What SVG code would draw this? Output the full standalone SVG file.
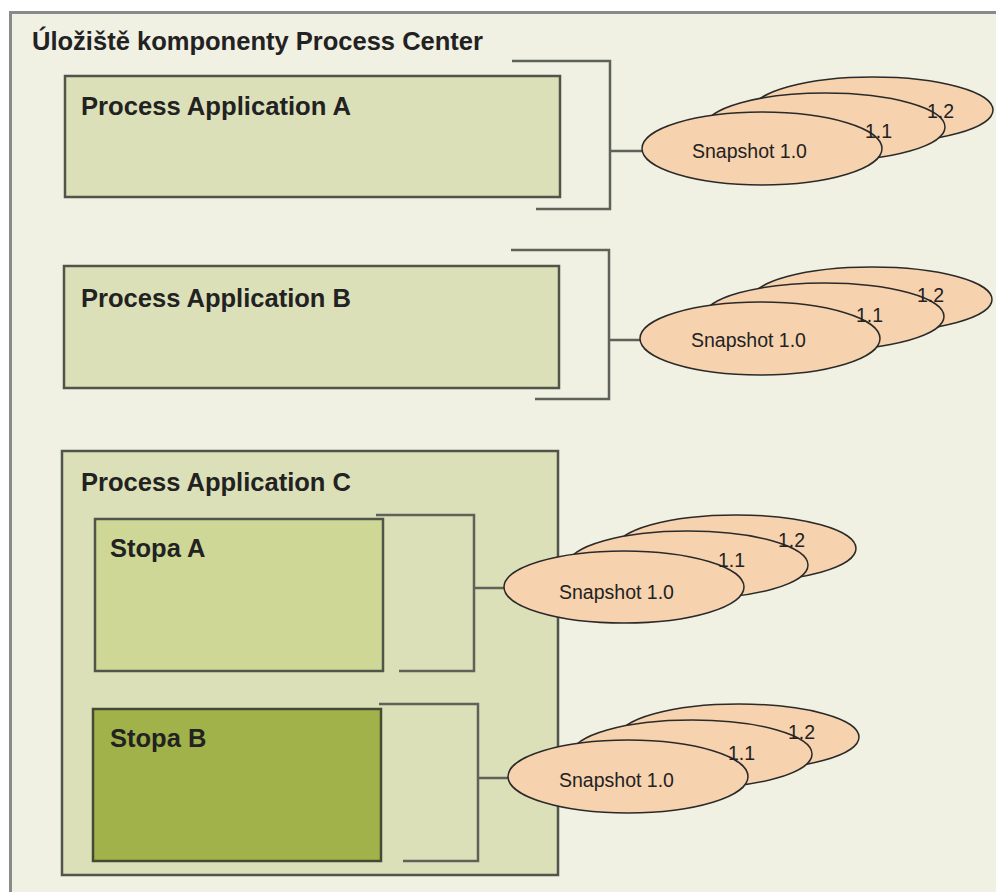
<svg xmlns="http://www.w3.org/2000/svg" width="996" height="892" viewBox="0 0 996 892">
<style>
.bg{fill:#ffffff}
.frame{fill:#f0f0e3;stroke:#8a8a8a;stroke-width:3}
.pa{fill:#dce0b8;stroke:#50554a;stroke-width:2.5}
.sa{fill:#ced796;stroke:#50554a;stroke-width:2.5}
.sb{fill:#a1b24a;stroke:#454a35;stroke-width:2.5}
.br{fill:none;stroke:#5e6258;stroke-width:2.5}
.snap{fill:#f6d2ae;stroke:#2a2a2a;stroke-width:1.5}
.t1{font-family:"Liberation Sans",Arial,sans-serif;font-weight:bold;font-size:25.5px;fill:#222}
.t2{font-family:"Liberation Sans",Arial,sans-serif;font-size:19.5px;fill:#222}
</style>
<rect class="bg" x="0" y="0" width="996" height="892"/>
<rect class="frame" x="10.5" y="12.5" width="1000" height="900"/>
<text class="t1" x="32" y="50" textLength="451" lengthAdjust="spacingAndGlyphs">Úložiště komponenty Process Center</text>

<g id="paA">
<rect class="pa" x="65" y="76" width="495" height="121"/>
<text class="t1" x="81" y="115" textLength="270" lengthAdjust="spacingAndGlyphs">Process Application A</text>
</g>
<g id="paB">
<rect class="pa" x="64" y="266" width="495" height="122"/>
<text class="t1" x="81" y="307" textLength="270" lengthAdjust="spacingAndGlyphs">Process Application B</text>
</g>
<g id="paC">
<rect class="pa" x="62" y="451" width="496" height="424"/>
<text class="t1" x="81" y="491" textLength="270" lengthAdjust="spacingAndGlyphs">Process Application C</text>
</g>
<g id="stopaA">
<rect class="sa" x="95" y="519" width="288" height="152"/>
<text class="t1" x="110" y="557">Stopa A</text>
</g>
<g id="stopaB">
<rect class="sb" x="93" y="709" width="288" height="152"/>
<text class="t1" x="110" y="747">Stopa B</text>
</g>

<g id="connectors">
<path class="br" d="M512 61 H610 V209 H536 M610 151 H642"/>
<path class="br" d="M511 250 H609 V399 H535 M609 340 H640"/>
<path class="br" d="M376 515 H474 V671 H399 M474 588 H505"/>
<path class="br" d="M379 704 H478 V861 H403 M478 778 H509"/>
</g>

<g id="snapA">
<ellipse class="snap" cx="873" cy="110" rx="120" ry="33"/>
<ellipse class="snap" cx="825" cy="127" rx="120" ry="34"/>
<ellipse class="snap" cx="762" cy="148.5" rx="120" ry="36.5"/>
<text class="t2" x="927" y="118">1.2</text>
<text class="t2" x="865" y="138">1.1</text>
<text class="t2" x="692" y="158">Snapshot 1.0</text>
</g>
<g id="snapB">
<ellipse class="snap" cx="872" cy="299.5" rx="120" ry="32.5"/>
<ellipse class="snap" cx="824" cy="316.5" rx="120" ry="33.5"/>
<ellipse class="snap" cx="760" cy="338.5" rx="120" ry="36.5"/>
<text class="t2" x="917" y="302">1.2</text>
<text class="t2" x="856" y="322">1.1</text>
<text class="t2" x="691" y="347">Snapshot 1.0</text>
</g>
<g id="snapCA">
<ellipse class="snap" cx="736" cy="548.5" rx="120" ry="33.5"/>
<ellipse class="snap" cx="688" cy="565" rx="120" ry="34"/>
<ellipse class="snap" cx="624" cy="587" rx="120" ry="36"/>
<text class="t2" x="778" y="547">1.2</text>
<text class="t2" x="718" y="567">1.1</text>
<text class="t2" x="559" y="599">Snapshot 1.0</text>
</g>
<g id="snapCB">
<ellipse class="snap" cx="739" cy="737" rx="120" ry="33"/>
<ellipse class="snap" cx="692" cy="754" rx="120" ry="34"/>
<ellipse class="snap" cx="628" cy="776.5" rx="120" ry="36.5"/>
<text class="t2" x="788" y="739">1.2</text>
<text class="t2" x="728" y="760">1.1</text>
<text class="t2" x="559" y="787">Snapshot 1.0</text>
</g>
</svg>
